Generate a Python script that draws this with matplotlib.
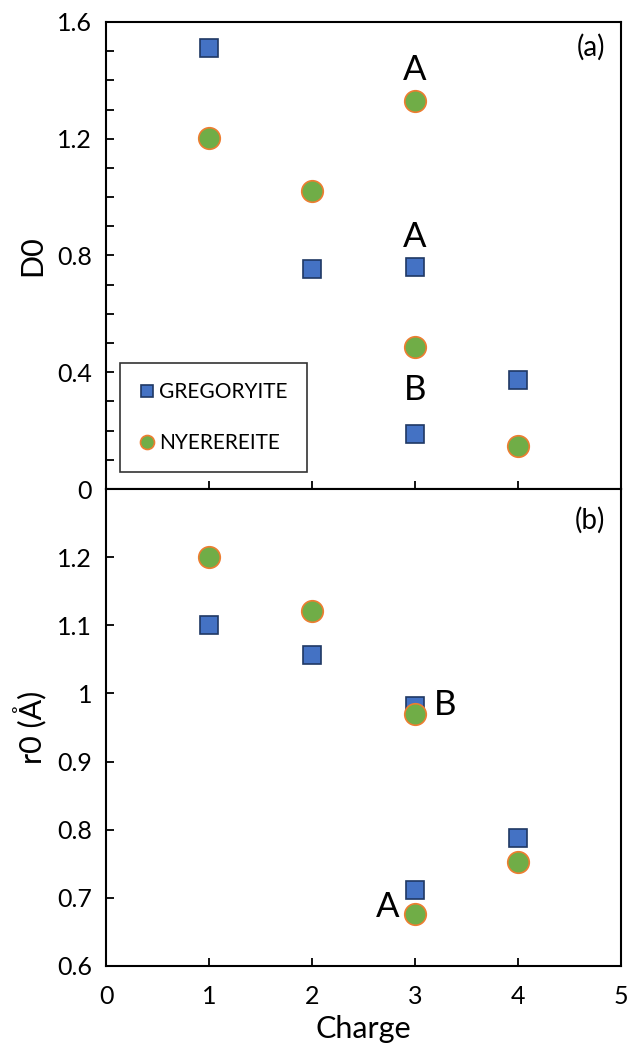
import matplotlib
matplotlib.use("Agg")
import matplotlib.pyplot as plt
from matplotlib.ticker import MultipleLocator

plt.rcParams['font.family'] = ['Lato', 'DejaVu Sans']

# charge positions
charge_greg = [1, 2, 3, 3, 4]
charge_nyer = [1, 2, 3, 3, 4]

# D0 values (panel a)
d0_greg = [1.51, 0.754, 0.76, 0.189, 0.374]
d0_nyer = [1.203, 1.021, 1.33, 0.487, 0.147]

# r0 values (panel b)
r0_greg = [1.10, 1.056, 0.982, 0.711, 0.788]
r0_nyer = [1.20, 1.121, 0.970, 0.677, 0.752]

sq_style = dict(linestyle='none', marker='s', markersize=12.5, markerfacecolor='#4472C4',
                markeredgecolor='#1F3864', markeredgewidth=1.2)
ci_style = dict(linestyle='none', marker='o', markersize=15.5, markerfacecolor='#70AD47',
                markeredgecolor='#ED7D31', markeredgewidth=1.2)

fig = plt.figure(figsize=(6.31, 10.46), dpi=100)
ax1 = fig.add_axes([0.168, 0.5325, 0.816, 0.4465])
ax2 = fig.add_axes([0.168, 0.0765, 0.816, 0.456])

# --- panel (a) ---
ax1.plot(charge_greg, d0_greg, label='GREGORYITE', **sq_style)
ax1.plot(charge_nyer, d0_nyer, label='NYEREREITE', **ci_style)
ax1.set_xlim(0, 5)
ax1.set_ylim(0, 1.6)
ax1.yaxis.set_minor_locator(MultipleLocator(0.1))
ax1.xaxis.set_major_locator(MultipleLocator(1))
ax1.set_yticks([0, 0.4, 0.8, 1.2, 1.6], ['0', '0.4', '0.8', '1.2', '1.6'])
ax1.tick_params(axis='x', labelbottom=False)
ax1.set_ylabel('D0', fontsize=22, labelpad=8)
ax1.text(3, 1.435, 'A', fontsize=25, ha='center', va='center')
ax1.text(3, 0.865, 'A', fontsize=25, ha='center', va='center')
ax1.text(3, 0.34, 'B', fontsize=25, ha='center', va='center')
ax1.text(0.97, 0.945, '(a)', transform=ax1.transAxes, fontsize=20, ha='right', va='center')
leg = ax1.legend(loc='lower left', bbox_to_anchor=(0.027, 0.036), fontsize=15,
                 frameon=True, fancybox=False, edgecolor='black', handletextpad=0.2,
                 labelspacing=1.5, borderpad=0.9, handlelength=0.8, markerscale=0.65,
                 borderaxespad=0)
leg.get_frame().set_linewidth(1.2)

# --- panel (b) ---
ax2.plot(charge_greg, r0_greg, **sq_style)
ax2.plot(charge_nyer, r0_nyer, **ci_style)
ax2.set_xlim(0, 5)
ax2.set_ylim(0.6, 1.3)
ax2.xaxis.set_major_locator(MultipleLocator(1))
ax2.set_yticks([0.6, 0.7, 0.8, 0.9, 1.0, 1.1, 1.2], ['0.6', '0.7', '0.8', '0.9', '1', '1.1', '1.2'])
ax2.set_ylabel('r0 (Å)', fontsize=22, labelpad=8)
ax2.set_xlabel('Charge', fontsize=22, labelpad=5)
ax2.text(3.29, 0.983, 'B', fontsize=25, ha='center', va='center')
ax2.text(2.73, 0.687, 'A', fontsize=25, ha='center', va='center')
ax2.text(0.97, 0.935, '(b)', transform=ax2.transAxes, fontsize=20, ha='right', va='center')

for ax in (ax1, ax2):
    for s in ax.spines.values():
        s.set_linewidth(1.5)
    ax.tick_params(axis='both', which='both', direction='in', labelsize=18, width=1.3, length=6)
    ax.tick_params(axis='y', pad=10)
    ax.tick_params(axis='x', pad=14)
    ax.tick_params(axis='x', which='both', top=False)
    ax.tick_params(axis='y', which='both', right=False)

fig.savefig('out.png', dpi=100)
